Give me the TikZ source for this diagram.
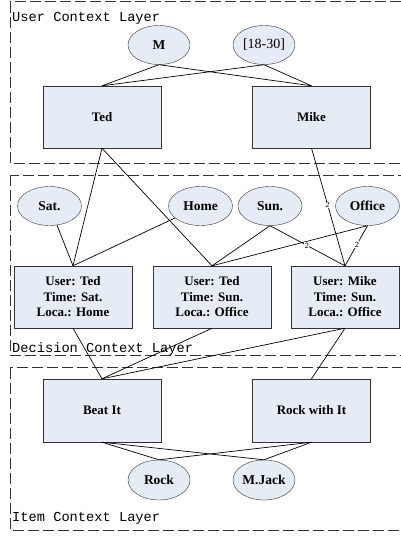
\documentclass[tikz,border=0pt]{standalone}
\usepackage{fontspec}
\setmainfont{Liberation Serif}
\newfontfamily\layerfont{Liberation Mono}
\usepackage{tikz}
\usetikzlibrary{shapes.geometric}

\definecolor{nodefill}{HTML}{E6ECF6}
\definecolor{edgegray}{HTML}{333333}

\begin{document}
\begin{tikzpicture}[
    x=1pt, y=-1pt,
    layer/.style={draw=edgegray, line width=0.9pt, dash pattern=on 11pt off 4pt},
    lname/.style={anchor=base west, inner sep=0pt, font=\layerfont\fontsize{13.7}{14}\selectfont},
    ent/.style={draw=edgegray, fill=nodefill, minimum width=118, minimum height=62, align=center, inner sep=1pt, font=\bfseries\fontsize{13}{15.5}\selectfont},
    ctx/.style={draw=edgegray, fill=nodefill, ellipse, minimum width=64, minimum height=39, inner sep=0pt, font=\bfseries\fontsize{13.5}{15}\selectfont},
    link/.style={line width=0.7pt},
    num/.style={fill=white, inner sep=0.4pt, font=\sffamily\fontsize{8}{8}\selectfont},
  ]
    \useasboundingbox (0,0) rectangle (400,536);
    % ===== 3つの層（右端は切れている）=====
    \draw[layer] (10,1.7) rectangle (404,163);
    \draw[layer] (10,175) rectangle (404,355.5);
    \draw[layer] (10,367.5) rectangle (404,530);
    \node[lname] (lu) at (12,21)  {User Context Layer};
    \node[lname] (ld) at (12,352) {Decision Context Layer};
    \node[lname] (li) at (12,521) {Item Context Layer};

    % ===== ユーザ層 =====
    \node[ctx, minimum width=62] (gen) at (159,45)  {M};
    \node[ctx, minimum width=62, font=\fontsize{14}{15}\selectfont] (age) at (264,45) {[18-30]};
    \node[ent] (ted)  at (102,117)   {Ted};
    \node[ent] (mike) at (311.5,117) {Mike};

    % ===== 決定コンテキスト層 =====
    \node[ctx] (sat)    at (49.5,206)  {Sat.};
    \node[ctx] (home)   at (200.5,206) {Home};
    \node[ctx] (sun)    at (270,206)   {Sun.};
    \node[ctx] (office) at (367.5,206) {Office};
    \node[ent] (d1) at (73,297)  {User: Ted\\Time: Sat.\\Loca.: Home};
    \node[ent] (d2) at (212,297) {User: Ted\\Time: Sun.\\Loca.: Office};
    \node[ent, minimum width=108] (d3) at (345,297) {User: Mike\\Time: Sun.\\Loca.: Office};

    % ===== アイテム層 =====
    \node[ent, minimum height=63] (beat) at (102,410.5)   {Beat It};
    \node[ent, minimum height=63] (rwi)  at (311.5,410.5) {Rock with It};
    \node[ctx, minimum width=62, minimum height=40] (rock)  at (159,480) {Rock};
    \node[ctx, minimum width=62, minimum height=40] (mjack) at (264,480) {M.Jack};

    % ===== 属性→ユーザ =====
    \draw[link] (gen.south) -- (ted.north);
    \draw[link] (gen.south) -- (mike.north);
    \draw[link] (age.south) -- (ted.north);
    \draw[link] (age.south) -- (mike.north);
    % ===== ユーザ・時間・場所→決定 =====
    \draw[link] (ted.south) -- (d1.north);
    \draw[link] (ted.south) -- (d2.north);
    \draw[link] (mike.south) -- node[num, pos=0.48] {2} (d3.north);
    \draw[link] (sat) -- (d1.north);
    \draw[link] (home) -- (d1.north);
    \draw[link] (sun.south) -- (d2.north);
    \draw[link] (office.south) -- (d2.north);
    \draw[link] (sun.south) -- node[num, pos=0.49] {2} (d3.north);
    \draw[link] (office.south) -- node[num, pos=0.47] {2} (d3.north);
    % ===== 決定→アイテム =====
    \draw[link] (d1.south) -- (beat.north);
    \draw[link] (d2.south) -- (beat.north);
    \draw[link] (d3.south) -- (beat.north);
    \draw[link] (d3.south) -- (rwi.north);
    % ===== アイテム→属性 =====
    \draw[link] (beat.south) -- (rock.north);
    \draw[link] (beat.south) -- (mjack.north);
    \draw[link] (rwi.south) -- (rock.north);
    \draw[link] (rwi.south) -- (mjack.north);
  \end{tikzpicture}
\end{document}
